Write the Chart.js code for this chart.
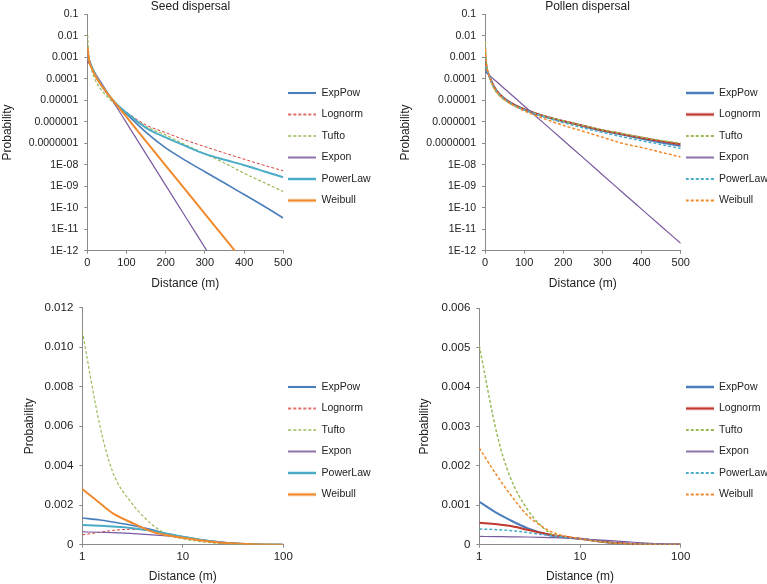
<!DOCTYPE html>
<html>
<head>
<meta charset="utf-8">
<script src="https://cdn.jsdelivr.net/npm/chart.js@4"></script>
<style>
    html, body { margin: 0; padding: 0; background: #fff; overflow: hidden; }
    body { width: 767px; height: 584px; position: relative; }
    canvas { position: absolute; }
</style>
</head>
<body>
<canvas id="seedFar" width="381" height="293" style="left:0;top:0"></canvas>
<canvas id="pollenFar" width="381" height="293" style="left:397px;top:0"></canvas>
<canvas id="seedNear" width="381" height="291" style="left:0;top:293px"></canvas>
<canvas id="pollenNear" width="381" height="291" style="left:397px;top:293px"></canvas>
<script>
// Series names, in legend order
const seriesNames = ['ExpPow', 'Lognorm', 'Tufto', 'Expon', 'PowerLaw', 'Weibull'];

// Distances (m) for the 0-500 m log-probability panels
const farDistance = [1, 2, 5, 10, 20, 30, 50, 75, 100, 150, 200, 250, 300, 350, 400, 450, 500];
// Distances (m) for the 1-100 m linear-probability panels
const nearDistance = [1, 1.5, 2, 3, 5, 7, 10, 20, 30, 50, 70, 100];

// Seed dispersal, 0-500 m
const seedFarExpPow   = [1.35e-3, 1.15e-3, 7.5e-4, 4.0e-4, 1.6e-4, 7.5e-5, 2.1e-5, 6.0e-6, 2.3e-6, 3.2e-7, 6.0e-8, 1.6e-8, 4.7e-9, 1.4e-9, 4.1e-10, 1.2e-10, 3.3e-11];
const seedFarLognorm  = [5.0e-4, 7.2e-4, 7.0e-4, 3.8e-4, 1.5e-4, 7.0e-5, 2.2e-5, 6.5e-6, 2.8e-6, 7.0e-7, 3.1e-7, 1.4e-7, 6.9e-8, 3.5e-8, 1.8e-8, 9.5e-9, 5.2e-9];
const seedFarTufto    = [1.08e-2, 3.7e-3, 1.0e-3, 3.0e-4, 9.0e-5, 4.2e-5, 1.5e-5, 5.5e-6, 2.6e-6, 5.9e-7, 2.4e-7, 8.5e-8, 3.2e-8, 1.2e-8, 4.0e-9, 1.5e-9, 5.6e-10];
const seedFarExpon    = [6.5e-4, 6.1e-4, 5.0e-4, 3.6e-4, 1.8e-4, 9.4e-5, 2.5e-5, 4.7e-6, 8.8e-7, 3.1e-8, 1.1e-9, 3.9e-11, 1.4e-12, 5.0e-14, 1.8e-15, 6.4e-17, 2.3e-18];
const seedFarPowerLaw = [1.0e-3, 9.2e-4, 7.0e-4, 4.0e-4, 1.6e-4, 7.5e-5, 2.2e-5, 6.5e-6, 2.6e-6, 5.2e-7, 1.85e-7, 7.5e-8, 3.2e-8, 1.7e-8, 9.5e-9, 5.0e-9, 2.6e-9];
const seedFarWeibull  = [2.82e-3, 1.6e-3, 6.5e-4, 3.5e-4, 1.4e-4, 7.0e-5, 2.2e-5, 6.0e-6, 1.66e-6, 1.2e-7, 9.0e-9, 6.9e-10, 5.1e-11, 3.9e-12, 2.9e-13, 2.1e-14, 1.6e-15];

// Pollen dispersal, 0-500 m
const pollenFarExpPow   = [1.09e-3, 6.3e-4, 2.4e-4, 1.5e-4, 5.2e-5, 2.6e-5, 1.15e-5, 6.0e-6, 3.7e-6, 1.8e-6, 1.04e-6, 6.3e-7, 3.8e-7, 2.5e-7, 1.6e-7, 1.07e-7, 7.4e-8];
const pollenFarLognorm  = [5.6e-4, 4.8e-4, 2.6e-4, 1.5e-4, 5.5e-5, 2.7e-5, 1.15e-5, 6.0e-6, 3.8e-6, 1.85e-6, 1.07e-6, 6.5e-7, 4.0e-7, 2.7e-7, 1.8e-7, 1.25e-7, 8.9e-8];
const pollenFarTufto    = [5.05e-3, 1.75e-3, 3.0e-4, 1.5e-4, 4.5e-5, 2.2e-5, 1.0e-5, 5.5e-6, 3.6e-6, 1.85e-6, 1.1e-6, 6.7e-7, 4.2e-7, 2.8e-7, 1.9e-7, 1.35e-7, 1.0e-7];
const pollenFarExpon    = [2.1e-4, 2.0e-4, 1.8e-4, 1.5e-4, 1.04e-4, 7.2e-5, 3.4e-5, 1.37e-5, 5.4e-6, 8.6e-7, 1.37e-7, 2.2e-8, 3.4e-9, 5.4e-10, 8.6e-11, 1.37e-11, 2.2e-12];
const pollenFarPowerLaw = [4.0e-4, 3.6e-4, 2.3e-4, 1.5e-4, 5.5e-5, 2.7e-5, 1.15e-5, 5.8e-6, 3.6e-6, 1.7e-6, 9.0e-7, 5.2e-7, 3.2e-7, 2.0e-7, 1.3e-7, 8.7e-8, 5.7e-8];
const pollenFarWeibull  = [2.45e-3, 1.3e-3, 3.5e-4, 1.5e-4, 5.0e-5, 2.4e-5, 1.05e-5, 5.5e-6, 3.2e-6, 1.4e-6, 6.8e-7, 3.6e-7, 1.9e-7, 1.0e-7, 6.3e-8, 3.8e-8, 2.3e-8];

// Seed dispersal, 1-100 m
const seedNearExpPow   = [1.35e-3, 1.25e-3, 1.15e-3, 1.0e-3, 7.5e-4, 5.5e-4, 4.0e-4, 1.6e-4, 7.5e-5, 2.1e-5, 8.5e-6, 2.3e-6];
const seedNearLognorm  = [5.0e-4, 6.3e-4, 7.2e-4, 7.8e-4, 7.0e-4, 5.5e-4, 3.8e-4, 1.5e-4, 7.0e-5, 2.2e-5, 8.5e-6, 2.8e-6];
const seedNearTufto    = [1.08e-2, 6.0e-3, 3.7e-3, 2.2e-3, 1.0e-3, 5.2e-4, 3.0e-4, 9.0e-5, 4.2e-5, 1.5e-5, 7.0e-6, 2.6e-6];
const seedNearExpon    = [6.5e-4, 6.3e-4, 6.1e-4, 5.7e-4, 5.0e-4, 4.4e-4, 3.6e-4, 1.8e-4, 9.4e-5, 2.5e-5, 6.5e-6, 8.8e-7];
const seedNearPowerLaw = [1.0e-3, 9.6e-4, 9.2e-4, 8.5e-4, 7.0e-4, 5.5e-4, 4.0e-4, 1.6e-4, 7.5e-5, 2.2e-5, 8.5e-6, 2.6e-6];
const seedNearWeibull  = [2.82e-3, 2.1e-3, 1.6e-3, 1.15e-3, 6.5e-4, 4.8e-4, 3.5e-4, 1.4e-4, 7.0e-5, 2.2e-5, 8.0e-6, 1.66e-6];

// Pollen dispersal, 1-100 m
const pollenNearExpPow   = [1.09e-3, 8.0e-4, 6.3e-4, 4.2e-4, 2.4e-4, 1.8e-4, 1.5e-4, 5.2e-5, 2.6e-5, 1.15e-5, 6.5e-6, 3.7e-6];
const pollenNearLognorm  = [5.6e-4, 5.2e-4, 4.8e-4, 3.8e-4, 2.6e-4, 2.0e-4, 1.5e-4, 5.5e-5, 2.7e-5, 1.15e-5, 6.5e-6, 3.8e-6];
const pollenNearTufto    = [5.05e-3, 2.8e-3, 1.75e-3, 9.0e-4, 3.0e-4, 1.9e-4, 1.5e-4, 4.5e-5, 2.2e-5, 1.0e-5, 6.0e-6, 3.6e-6];
const pollenNearExpon    = [2.1e-4, 2.05e-4, 2.0e-4, 1.95e-4, 1.8e-4, 1.7e-4, 1.5e-4, 1.04e-4, 7.2e-5, 3.4e-5, 1.6e-5, 5.4e-6];
const pollenNearPowerLaw = [4.0e-4, 3.8e-4, 3.6e-4, 3.1e-4, 2.3e-4, 1.9e-4, 1.5e-4, 5.5e-5, 2.7e-5, 1.15e-5, 6.3e-6, 3.6e-6];
const pollenNearWeibull  = [2.45e-3, 1.75e-3, 1.3e-3, 7.5e-4, 3.5e-4, 2.2e-4, 1.5e-4, 5.0e-5, 2.4e-5, 1.05e-5, 6.0e-6, 3.2e-6];

// Tick values and their labels
const farXTicks = [0, 100, 200, 300, 400, 500];
const farXLabels = ['0', '100', '200', '300', '400', '500'];
const logYTicks = [1e-12, 1e-11, 1e-10, 1e-9, 1e-8, 1e-7, 1e-6, 1e-5, 1e-4, 1e-3, 1e-2, 1e-1];
const logYLabels = ['1E-12', '1E-11', '1E-10', '1E-09', '1E-08', '0.0000001', '0.000001', '0.00001', '0.0001', '0.001', '0.01', '0.1'];
const nearXTicks = [1, 10, 100];
const nearXLabels = ['1', '10', '100'];
const seedNearYTicks = [0, 0.002, 0.004, 0.006, 0.008, 0.010, 0.012];
const seedNearYLabels = ['0', '0.002', '0.004', '0.006', '0.008', '0.010', '0.012'];
const pollenNearYTicks = [0, 0.001, 0.002, 0.003, 0.004, 0.005, 0.006];
const pollenNearYLabels = ['0', '0.001', '0.002', '0.003', '0.004', '0.005', '0.006'];

const family = "'Liberation Sans', Arial, sans-serif";
const textColor = '#222';
const axisGrey = '#8a8a8a';

const seedStyles = [
    { color: '#4a7ebb', width: 1.6, dash: [] },
    { color: '#d8413a', width: 1, dash: [3, 2] },
    { color: '#9bbb59', width: 1.2, dash: [3, 2] },
    { color: '#7a5aa0', width: 1.2, dash: [] },
    { color: '#4bacc6', width: 2, dash: [] },
    { color: '#f08a2c', width: 2, dash: [] }
];
const pollenStyles = [
    { color: '#4a7ebb', width: 2, dash: [] },
    { color: '#c0392f', width: 2, dash: [] },
    { color: '#9bbb59', width: 1.5, dash: [3, 2] },
    { color: '#7a5aa0', width: 1.2, dash: [] },
    { color: '#4bacc6', width: 1.5, dash: [3, 2] },
    { color: '#f08a2c', width: 1.5, dash: [3, 2] }
];

// Small line sample used as the legend symbol (keeps the dash pattern)
function lineSwatch(st) {
    const c = document.createElement('canvas');
    c.width = 28;
    c.height = 6;
    const g = c.getContext('2d');
    g.strokeStyle = st.color;
    g.lineWidth = st.width + 0.5;
    g.setLineDash(st.dash);
    g.beginPath();
    g.moveTo(0, 3);
    g.lineTo(28, 3);
    g.stroke();
    return c;
}

// Puts the legend rows next to the plot like the original layout
const legendPlace = {
    id: 'legendPlace',
    afterLayout(chart, args, opts) {
        const lg = chart.legend;
        const pad = lg.options.labels.padding;
        lg.left = chart.chartArea.right + opts.gap - pad;
        const colH = lg.columnSizes[0].height;
        const natural = (lg.top + pad + lg.bottom - colH) / 2 + opts.fontSize / 2;
        const dy = opts.firstRow - natural;
        lg.top += dy;
        lg.bottom += dy;
    }
};

function makeDatasets(xs, seriesList, styles) {
    return seriesList.map((ys, i) => ({
        label: seriesNames[i],
        data: xs.map((x, j) => ({ x: x, y: ys[j] })),
        borderColor: styles[i].color,
        backgroundColor: styles[i].color,
        borderWidth: styles[i].width,
        borderDash: styles[i].dash,
        pointRadius: 0,
        pointStyle: lineSwatch(styles[i]),
        fill: false,
        cubicInterpolationMode: 'monotone',
        order: seriesList.length - i
    }));
}

function axisTitle(text, pad) {
    return { display: true, text: text, color: textColor, font: { family: family, size: 12 }, padding: pad };
}

function drawPanel(id, cfg) {
    new Chart(document.getElementById(id), {
        type: 'line',
        data: { datasets: makeDatasets(cfg.xs, cfg.series, cfg.styles) },
        options: {
            responsive: false,
            animation: false,
            layout: { padding: { left: 0, right: 0, top: cfg.padTop, bottom: 0 } },
            plugins: {
                title: {
                    display: !!cfg.title,
                    text: cfg.title,
                    color: textColor,
                    font: { family: family, size: 12, weight: 'normal', lineHeight: 1.1 },
                    padding: { top: 0, bottom: 1 }
                },
                legend: {
                    position: 'right',
                    maxWidth: cfg.legendWidth,
                    labels: {
                        usePointStyle: true,
                        pointStyleWidth: 28,
                        padding: 11,
                        color: textColor,
                        font: { family: family, size: 10.5 },
                        sort: (a, b) => a.datasetIndex - b.datasetIndex
                    }
                },
                tooltip: { enabled: false },
                legendPlace: { gap: 5, firstRow: cfg.firstRow, fontSize: 10.5 }
            },
            scales: {
                x: {
                    type: cfg.xType,
                    min: cfg.xMin,
                    max: cfg.xMax,
                    afterBuildTicks: s => { s.ticks = cfg.xTicks.map(v => ({ value: v })); },
                    afterFit: s => { s.height = cfg.xHeight; },
                    ticks: {
                        callback: (v, i) => cfg.xLabels[i],
                        color: textColor,
                        font: { family: family, size: cfg.xTickSize },
                        padding: cfg.xTickPad,
                        autoSkip: false,
                        maxRotation: 0
                    },
                    grid: { drawOnChartArea: false, tickLength: 3, color: axisGrey },
                    border: { color: axisGrey, width: 1 },
                    title: axisTitle('Distance (m)', { top: 0, bottom: cfg.xTitlePad })
                },
                y: {
                    type: cfg.yType,
                    min: cfg.yMin,
                    max: cfg.yMax,
                    afterBuildTicks: s => { s.ticks = cfg.yTicks.map(v => ({ value: v })); },
                    afterFit: s => { s.width = cfg.yWidth; },
                    ticks: {
                        callback: (v, i) => cfg.yLabels[i],
                        color: textColor,
                        font: { family: family, size: cfg.yTickSize },
                        padding: 6,
                        autoSkip: false
                    },
                    grid: { drawOnChartArea: false, tickLength: 3, color: axisGrey },
                    border: { color: axisGrey, width: 1 },
                    title: axisTitle('Probability', { top: cfg.yTitlePad, bottom: 0 })
                }
            }
        },
        plugins: [legendPlace]
    });
}

const farAxes = {
    xs: farDistance, xType: 'linear', xMin: 0, xMax: 500, xTicks: farXTicks, xLabels: farXLabels,
    yType: 'logarithmic', yMin: 1e-12, yMax: 0.1, yTicks: logYTicks, yLabels: logYLabels,
    padTop: 0, xHeight: 42.3, xTickSize: 11, xTickPad: 3, xTitlePad: 2.5, yTickSize: 10.5, firstRow: 93
};
const nearAxes = {
    xs: nearDistance, xType: 'logarithmic', xMin: 1, xMax: 100, xTicks: nearXTicks, xLabels: nearXLabels,
    yType: 'linear', yMin: 0, xHeight: 39.3, xTickSize: 11.5, xTickPad: 2, xTitlePad: 0, yTickSize: 11.5, firstRow: 94
};

drawPanel('seedFar', Object.assign({}, farAxes, {
    title: 'Seed dispersal', styles: seedStyles,
    series: [seedFarExpPow, seedFarLognorm, seedFarTufto, seedFarExpon, seedFarPowerLaw, seedFarWeibull],
    yWidth: 87.3, yTitlePad: 0.3, legendWidth: 97.7
}));

drawPanel('pollenFar', Object.assign({}, farAxes, {
    title: 'Pollen dispersal', styles: pollenStyles,
    series: [pollenFarExpPow, pollenFarLognorm, pollenFarTufto, pollenFarExpon, pollenFarPowerLaw, pollenFarWeibull],
    yWidth: 88, yTitlePad: 1.5, legendWidth: 97.3
}));

drawPanel('seedNear', Object.assign({}, nearAxes, {
    styles: seedStyles, yMax: 0.012, yTicks: seedNearYTicks, yLabels: seedNearYLabels,
    series: [seedNearExpPow, seedNearLognorm, seedNearTufto, seedNearExpon, seedNearPowerLaw, seedNearWeibull],
    padTop: 14.7, yWidth: 82.3, yTitlePad: 22.8, legendWidth: 97.7
}));

drawPanel('pollenNear', Object.assign({}, nearAxes, {
    styles: pollenStyles, yMax: 0.006, yTicks: pollenNearYTicks, yLabels: pollenNearYLabels,
    series: [pollenNearExpPow, pollenNearLognorm, pollenNearTufto, pollenNearExpon, pollenNearPowerLaw, pollenNearWeibull],
    padTop: 15.3, yWidth: 82.3, yTitlePad: 20.8, legendWidth: 97.3
}));
</script>
</body>
</html>
